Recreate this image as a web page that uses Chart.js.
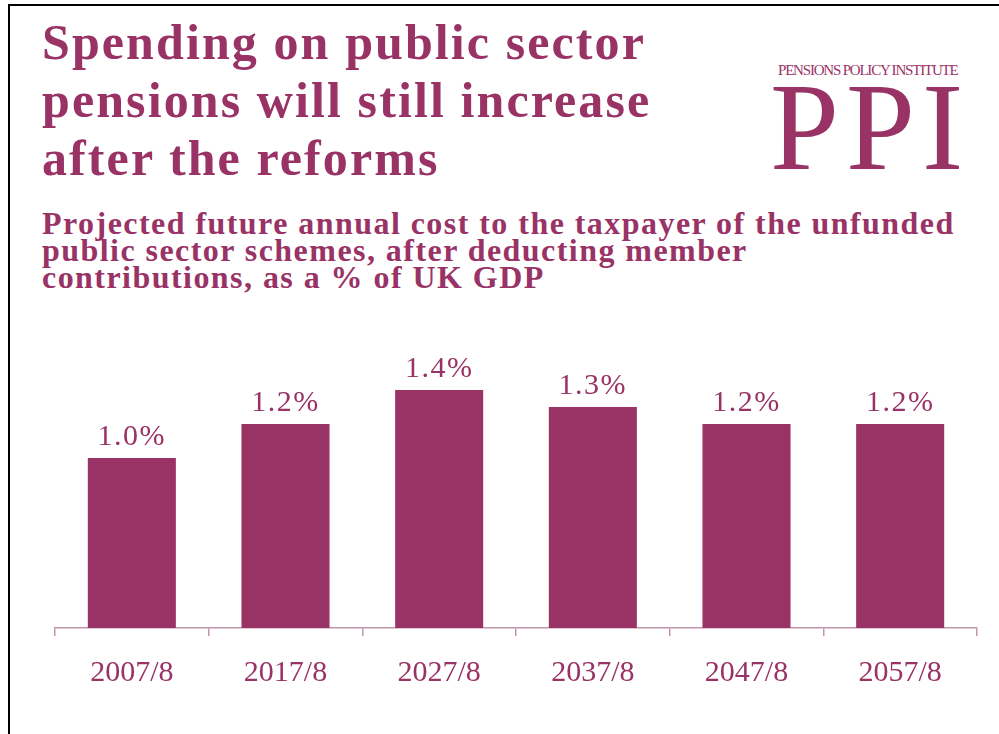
<!DOCTYPE html>
<html>
<head>
<meta charset="utf-8">
<script src="https://cdn.jsdelivr.net/npm/chart.js@4/dist/chart.umd.min.js"></script>
<style>
  html, body { margin: 0; padding: 0; background: #fff; }
  body { width: 999px; height: 734px; position: relative; overflow: hidden; font-family: "Liberation Serif", serif; color: #993366; }
  .frame-top { position: absolute; left: 8px; top: 4px; width: 991px; height: 2px; background: #000; }
  .frame-left { position: absolute; left: 8px; top: 4px; width: 2px; height: 730px; background: #000; }
  .title { position: absolute; left: 42px; top: 13px; font-weight: bold; font-size: 50px; line-height: 58px; letter-spacing: 2.1px; white-space: nowrap; }
  .subtitle { position: absolute; left: 42px; top: 210px; font-weight: bold; font-size: 32px; line-height: 27px; letter-spacing: 1.45px; white-space: nowrap; }
  .logo-small { position: absolute; left: 778px; top: 62px; font-size: 15px; letter-spacing: -1.2px; white-space: nowrap; }
  .logo-big { position: absolute; left: 770px; top: 66px; font-size: 124px; line-height: 124px; letter-spacing: 7px; white-space: nowrap; }
  #wrap { position: absolute; left: 0; top: 300px; width: 999px; height: 434px; }
</style>
</head>
<body>
<div class="frame-top"></div>
<div class="frame-left"></div>
<div class="title">Spending on public sector<br>pensions will still increase<br>after the reforms</div>
<div class="subtitle">Projected future annual cost to the taxpayer of the unfunded<br>public sector schemes, after deducting member<br>contributions, as a % of UK GDP</div>
<div class="logo-small">PENSIONS POLICY INSTITUTE</div>
<div class="logo-big">PPI</div>
<div id="wrap"><canvas id="chart" width="999" height="434"></canvas></div>
<script>
// Financial years shown on the axis
const years = ["2007/8", "2017/8", "2027/8", "2037/8", "2047/8", "2057/8"];
// Net cost of unfunded public sector pensions, % of GDP
const costPctGDP = [1.0, 1.2, 1.4, 1.3, 1.2, 1.2];

const purple = "#993366";
const axisColor = "#c196ad";

// Writes each bar's value above it
const valueLabels = {
  id: "valueLabels",
  afterDatasetsDraw(chart) {
    const ctx = chart.ctx;
    const meta = chart.getDatasetMeta(0);
    ctx.save();
    ctx.fillStyle = purple;
    ctx.font = "30px 'Liberation Serif', serif";
    ctx.letterSpacing = "1.5px";
    ctx.textAlign = "center";
    ctx.textBaseline = "alphabetic";
    meta.data.forEach((bar, i) => {
      const v = chart.data.datasets[0].data[i];
      ctx.fillText(v.toFixed(1) + "%", bar.x, bar.y - 13);
    });
    ctx.restore();
  }
};

new Chart(document.getElementById("chart"), {
  type: "bar",
  data: {
    labels: years,
    datasets: [{
      data: costPctGDP,
      backgroundColor: purple,
      borderWidth: 0,
      categoryPercentage: 1,
      barPercentage: 0.573
    }]
  },
  options: {
    responsive: false,
    animation: false,
    events: [],
    layout: { padding: { left: 55, right: 22, top: 22, bottom: 0 } },
    plugins: { legend: { display: false }, tooltip: { enabled: false } },
    scales: {
      y: { display: false, min: 0, max: 1.8 },
      x: {
        offset: true,
        grid: { offset: true, drawOnChartArea: false, drawTicks: true, tickLength: 8, color: axisColor, lineWidth: 1.5 },
        border: { display: true, color: axisColor, width: 1.5 },
        ticks: { color: purple, font: { family: "'Liberation Serif', serif", size: 30 }, padding: 19, maxRotation: 0 },
        afterFit(scale) { scale.height = 106; }
      }
    }
  },
  plugins: [valueLabels]
});
</script>
</body>
</html>
